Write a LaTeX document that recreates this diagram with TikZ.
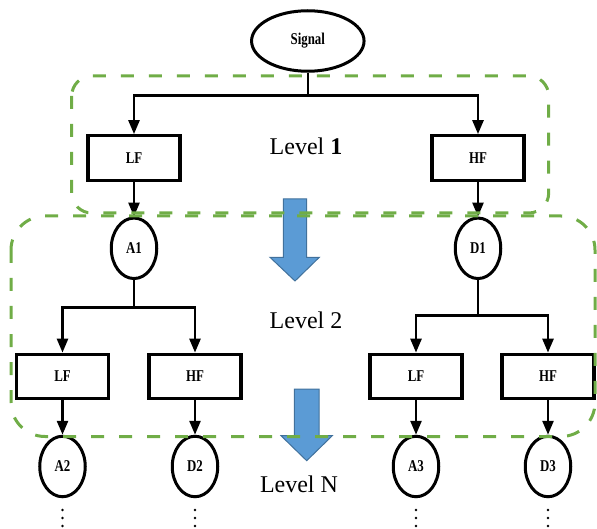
\documentclass[tikz,border=0pt]{standalone}
\usepackage{fontspec}
\setmainfont{Liberation Serif}
\newfontfamily\lblfont[FakeStretch=0.78]{Liberation Serif}
\usetikzlibrary{shapes.geometric,arrows.meta}
\definecolor{grn}{HTML}{70AD47}
\definecolor{bfill}{HTML}{5B9BD5}
\definecolor{bedge}{HTML}{41719C}
\begin{document}
\begin{tikzpicture}[x=1pt,y=-1pt,
  lbl/.style={font=\lblfont\bfseries\fontsize{16.5}{16.5}\selectfont},
  box/.style={lbl,draw,line width=3.2pt,minimum width=92pt,minimum height=44.5pt,inner sep=0pt},
  oval/.style={lbl,draw,ellipse,line width=3pt,minimum width=45.5pt,minimum height=60.5pt,inner sep=0pt},
  conn/.style={line width=2.6pt},
  arr/.style={conn,-{Triangle[width=11pt,length=14pt]}},
  grp/.style={draw=grn,line width=3pt,dash pattern=on 13pt off 15pt},
  level/.style={font=\fontsize{24}{24}\selectfont,anchor=base,inner sep=0pt},
  bigarrow/.style={fill=bfill,draw=bedge,line width=1pt}]
\useasboundingbox (0,0) rectangle (597,529);

% nodes
\node[oval,minimum width=112.5pt] (sig) at (307.8,41) {Signal};
\node[box] (lf1) at (134,158) {LF};
\node[box] (hf1) at (478,158) {HF};
\node[oval] (a1) at (134,248.3) {A1};
\node[oval] (d1) at (478,248.3) {D1};
\node[box] (lf2) at (62.5,376.5) {LF};
\node[box] (hf2) at (195,376.5) {HF};
\node[box] (lf3) at (416,376.5) {LF};
\node[box] (hf3) at (548,376.5) {HF};
\node[oval] (a2) at (62.5,466.5) {A2};
\node[oval] (d2) at (195,466.5) {D2};
\node[oval] (a3) at (416,466.5) {A3};
\node[oval] (d3) at (548,466.5) {D3};

\node[level] (lv1) at (306,155) {Level \textbf{1}};
\node[level] (lv2) at (306,329) {Level 2};
\node[level] (lvn) at (299,492.3) {Level N};

% split points
\coordinate (s0) at (307.8,95.7);
\coordinate (s1) at (134,307.3);
\coordinate (s2) at (478,315.7);

% connectors
\draw[conn] (sig.south) -- (s0);
\draw[arr] (s0) -| (lf1.north);
\draw[arr] (s0) -| (hf1.north);
\draw[arr] (lf1.south) -- (a1.north);
\draw[arr] (hf1.south) -- (d1.north);
\draw[conn] (a1.south) -- (s1);
\draw[arr] (s1) -| (lf2.north);
\draw[arr] (s1) -| (hf2.north);
\draw[conn] (d1.south) -- (s2);
\draw[arr] (s2) -| (lf3.north);
\draw[arr] (s2) -| (hf3.north);
\draw[arr] (lf2.south) -- (a2.north);
\draw[arr] (hf2.south) -- (d2.north);
\draw[arr] (lf3.south) -- (a3.north);
\draw[arr] (hf3.south) -- (d3.north);

% dots
\foreach \x in {62.5,195,416,548}
  \foreach \y in {510,518,526}
    \fill (\x,\y) circle (1.4pt);

% big arrows
\draw[bigarrow] (283.3,199) -- (306.7,199) -- (306.7,257.3) -- (319.3,257.3)
  -- (295,281) -- (270,257.3) -- (283.3,257.3) -- cycle;
\draw[bigarrow] (294.3,389) -- (319,389) -- (319,435.7) -- (332.3,435.7)
  -- (306.7,460.7) -- (281,435.7) -- (294.3,435.7) -- cycle;

% groups
\draw[grp,rounded corners=20pt] (71.7,76) rectangle (548.7,213);
\draw[grp,rounded corners=34pt] (11,216) rectangle (595,436.5);
\end{tikzpicture}
\end{document}
